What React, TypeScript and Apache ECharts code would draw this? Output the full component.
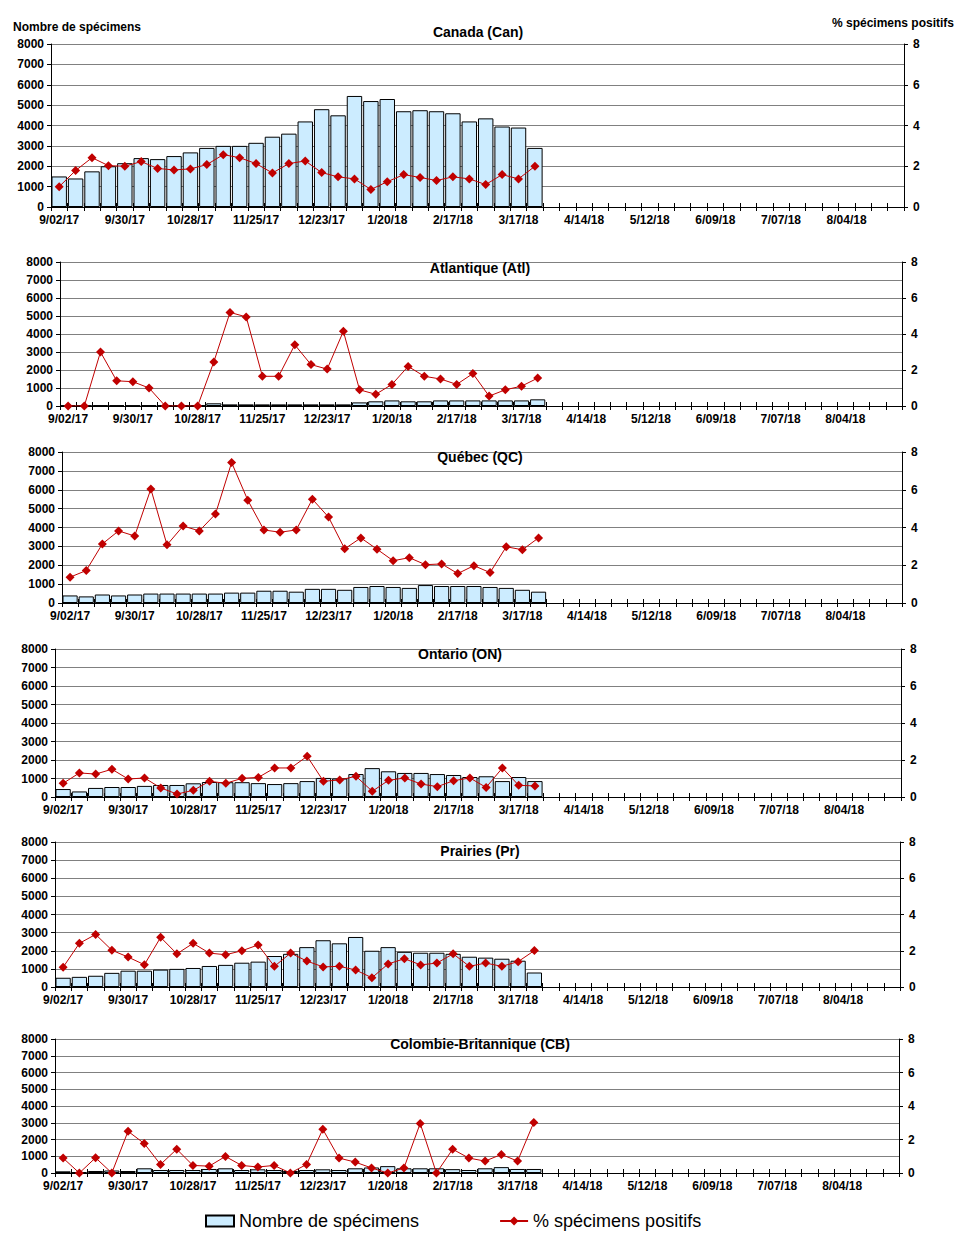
import React, { useEffect, useRef } from "react";
import * as echarts from "echarts";

const weeks = [
  "9/02/17", "9/09/17", "9/16/17", "9/23/17", "9/30/17", "10/07/17", "10/14/17", "10/21/17",
  "10/28/17", "11/04/17", "11/11/17", "11/18/17", "11/25/17", "12/02/17", "12/09/17", "12/16/17",
  "12/23/17", "12/30/17", "1/06/18", "1/13/18", "1/20/18", "1/27/18", "2/03/18", "2/10/18",
  "2/17/18", "2/24/18", "3/03/18", "3/10/18", "3/17/18", "3/24/18", "3/31/18", "4/07/18",
  "4/14/18", "4/21/18", "4/28/18", "5/05/18", "5/12/18", "5/19/18", "5/26/18", "6/02/18",
  "6/09/18", "6/16/18", "6/23/18", "6/30/18", "7/07/18", "7/14/18", "7/21/18", "7/28/18",
  "8/04/18", "8/11/18", "8/18/18", "8/25/18",
];

const countTicks = [0, 1000, 2000, 3000, 4000, 5000, 6000, 7000, 8000];
const pctTicks = [0, 2, 4, 6, 8];

const canadaCount = [1500, 1400, 1750, 2000, 2150, 2400, 2350, 2500, 2680, 2900, 3000, 3000, 3150, 3450, 3600, 4200, 4800, 4500, 5450, 5200, 5300, 4700, 4750, 4700, 4600, 4200, 4350, 3950, 3900, 2900];
const canadaPct = [1.0, 1.79, 2.42, 2.03, 2.0, 2.23, 1.89, 1.82, 1.87, 2.08, 2.57, 2.42, 2.13, 1.67, 2.13, 2.26, 1.69, 1.48, 1.38, 0.86, 1.24, 1.59, 1.45, 1.3, 1.48, 1.38, 1.1, 1.59, 1.38, 2.0];

const atlCount = [30, 25, 40, 35, 30, 40, 35, 30, 40, 150, 90, 90, 90, 90, 90, 90, 90, 90, 200, 260, 310, 260, 260, 310, 310, 310, 310, 310, 310, 370];
const atlPct = [0, 0, 3.0, 1.4, 1.35, 1.0, 0, 0, 0, 2.45, 5.2, 4.95, 1.65, 1.65, 3.4, 2.3, 2.05, 4.15, 0.9, 0.65, 1.2, 2.2, 1.65, 1.5, 1.2, 1.8, 0.55, 0.9, 1.1, 1.55];

const qcCount = [400, 350, 450, 400, 450, 500, 500, 500, 500, 500, 550, 550, 650, 650, 600, 750, 750, 700, 850, 900, 850, 800, 950, 900, 900, 900, 850, 800, 700, 600];
const qcPct = [1.37, 1.72, 3.13, 3.82, 3.55, 6.04, 3.08, 4.08, 3.82, 4.71, 7.44, 5.45, 3.87, 3.75, 3.87, 5.5, 4.55, 2.87, 3.45, 2.85, 2.24, 2.4, 2.03, 2.07, 1.56, 1.98, 1.61, 2.98, 2.82, 3.45];

const onCount = [430, 300, 490, 540, 540, 600, 650, 650, 740, 810, 800, 800, 750, 700, 750, 860, 1030, 1000, 1240, 1560, 1390, 1300, 1300, 1240, 1190, 1080, 1120, 860, 1080, 860];
const onPct = [0.74, 1.3, 1.24, 1.5, 0.97, 1.03, 0.49, 0.16, 0.36, 0.85, 0.74, 1.01, 1.06, 1.57, 1.57, 2.2, 0.85, 0.92, 1.12, 0.31, 0.9, 1.03, 0.7, 0.56, 0.88, 1.03, 0.52, 1.57, 0.63, 0.6];

const prCount = [510, 560, 620, 780, 900, 900, 960, 1000, 1050, 1160, 1220, 1340, 1400, 1710, 1830, 2200, 2580, 2410, 2760, 2000, 2200, 1940, 1890, 1890, 1830, 1670, 1620, 1560, 1450, 800];
const prPct = [1.09, 2.41, 2.9, 2.03, 1.65, 1.23, 2.74, 1.83, 2.41, 1.87, 1.78, 2.0, 2.32, 1.14, 1.87, 1.43, 1.11, 1.14, 0.94, 0.51, 1.27, 1.56, 1.22, 1.32, 1.83, 1.14, 1.32, 1.14, 1.4, 2.01];

const cbCount = [100, 50, 120, 150, 120, 280, 180, 180, 180, 240, 280, 180, 220, 180, 120, 180, 220, 180, 280, 330, 410, 280, 280, 280, 230, 180, 280, 350, 240, 240];
const cbPct = [0.89, 0, 0.91, 0, 2.49, 1.76, 0.51, 1.42, 0.45, 0.41, 0.99, 0.45, 0.36, 0.45, 0, 0.51, 2.61, 0.89, 0.65, 0.3, 0, 0.3, 2.96, 0, 1.42, 0.89, 0.71, 1.11, 0.71, 3.02];

const regionTitles = ["Canada (Can)", "Atlantique (Atl)", "Québec (QC)", "Ontario (ON)", "Prairies (Pr)", "Colombie-Britannique (CB)"];
const regionCounts = [canadaCount, atlCount, qcCount, onCount, prCount, cbCount];
const regionPcts = [canadaPct, atlPct, qcPct, onPct, prPct, cbPct];

const countName = "Nombre de spécimens";
const pctName = "% spécimens positifs";

// layout (pixels): left, right edge, top, bottom, title x, title y
const layout = [
  { l: 51, r: 904, t: 44, b: 207, tx: 478, ty: 32 },
  { l: 60, r: 902, t: 262, b: 406, tx: 480, ty: 268 },
  { l: 62, r: 902, t: 452, b: 603, tx: 480, ty: 457 },
  { l: 55, r: 901, t: 649, b: 797, tx: 460, ty: 654 },
  { l: 55, r: 900, t: 842, b: 987, tx: 480, ty: 851 },
  { l: 55, r: 899, t: 1039, b: 1173, tx: 480, ty: 1044 },
];

const FONT = "Arial, Liberation Sans, sans-serif";
const BAR_FILL = "#CCECFF";
const RED = "#C00000";

export default function App() {
  const ref = useRef<HTMLDivElement>(null);

  useEffect(() => {
    if (!ref.current) return;
    const chart = echarts.init(ref.current, undefined, { renderer: "svg" });

    const grid: any[] = [];
    const xAxis: any[] = [];
    const yAxis: any[] = [];
    const series: any[] = [];
    const graphic: any[] = [];

    layout.forEach((p, i) => {
      grid.push({ left: p.l, top: p.t, width: p.r - p.l, height: p.b - p.t, containLabel: false });
      xAxis.push({
        type: "category",
        gridIndex: i,
        data: weeks,
        boundaryGap: true,
        axisLine: { show: true, lineStyle: { color: "#000", width: 1 } },
        axisTick: { show: true, interval: 0, length: 4, lineStyle: { color: "#000" } },
        axisLabel: { interval: 3, color: "#000", fontWeight: "bold", fontSize: 12, fontFamily: FONT, margin: 7 },
        splitLine: { show: false },
      });
      xAxis.push({
        type: "category",
        gridIndex: i,
        data: weeks,
        position: "bottom",
        boundaryGap: true,
        axisLine: { show: false },
        axisTick: { show: true, inside: true, interval: 0, length: 4, lineStyle: { color: "#000" } },
        axisLabel: { show: false },
        splitLine: { show: false },
      });
      yAxis.push({
        type: "value",
        gridIndex: i,
        min: countTicks[0],
        max: countTicks[countTicks.length - 1],
        interval: countTicks[1] - countTicks[0],
        axisLine: { show: true, lineStyle: { color: "#000" } },
        axisTick: { show: true, length: 4, lineStyle: { color: "#000" } },
        axisLabel: {
          color: "#000", fontWeight: "bold", fontSize: 12, fontFamily: FONT, margin: 7,
          formatter: (v: number) => String(v),
        },
        splitLine: { show: true, lineStyle: { color: "#808080", width: 1 } },
      });
      yAxis.push({
        type: "value",
        gridIndex: i,
        position: "right",
        min: pctTicks[0],
        max: pctTicks[pctTicks.length - 1],
        interval: pctTicks[1] - pctTicks[0],
        axisLine: { show: true, lineStyle: { color: "#000" } },
        axisTick: { show: true, length: 4, lineStyle: { color: "#000" } },
        axisLabel: {
          color: "#000", fontWeight: "bold", fontSize: 12, fontFamily: FONT, margin: 9,
          formatter: (v: number) => String(v),
        },
        splitLine: { show: false },
      });
      series.push({
        name: countName,
        type: "bar",
        xAxisIndex: 2 * i,
        yAxisIndex: 2 * i,
        data: regionCounts[i],
        barCategoryGap: "6%",
        itemStyle: { color: BAR_FILL, borderColor: "#000", borderWidth: 1 },
        z: 2,
      });
      series.push({
        name: pctName,
        type: "line",
        xAxisIndex: 2 * i,
        yAxisIndex: 2 * i + 1,
        data: regionPcts[i],
        symbol: "diamond",
        symbolSize: 9,
        itemStyle: { color: RED },
        lineStyle: { color: RED, width: 1 },
        z: 3,
      });
      graphic.push({
        type: "text",
        x: p.tx,
        y: p.ty,
        z: 10,
        style: {
          text: regionTitles[i],
          fill: "#000",
          font: `bold 14px ${FONT}`,
          textAlign: "center",
          textVerticalAlign: "middle",
        },
      });
    });

    graphic.push({
      type: "text",
      x: 13,
      y: 27,
      style: { text: countName, fill: "#000", font: `bold 12px ${FONT}`, textAlign: "left", textVerticalAlign: "middle" },
    });
    graphic.push({
      type: "text",
      x: 954,
      y: 23,
      style: { text: pctName, fill: "#000", font: `bold 12px ${FONT}`, textAlign: "right", textVerticalAlign: "middle" },
    });

    chart.setOption({
      animation: false,
      backgroundColor: "#fff",
      grid,
      xAxis,
      yAxis,
      series,
      graphic,
      legend: {
        data: [{ name: countName, icon: "rect" }, { name: pctName }],
        left: 200,
        top: 1207,
        itemWidth: 28,
        itemHeight: 11,
        itemGap: 80,
        textStyle: { color: "#000", fontSize: 18, fontFamily: FONT },
      },
    });

    return () => chart.dispose();
  }, []);

  return (
    <div
      ref={ref}
      style={{ position: "absolute", left: 0, top: 0, width: 960, height: 1243, background: "#fff" }}
    />
  );
}
